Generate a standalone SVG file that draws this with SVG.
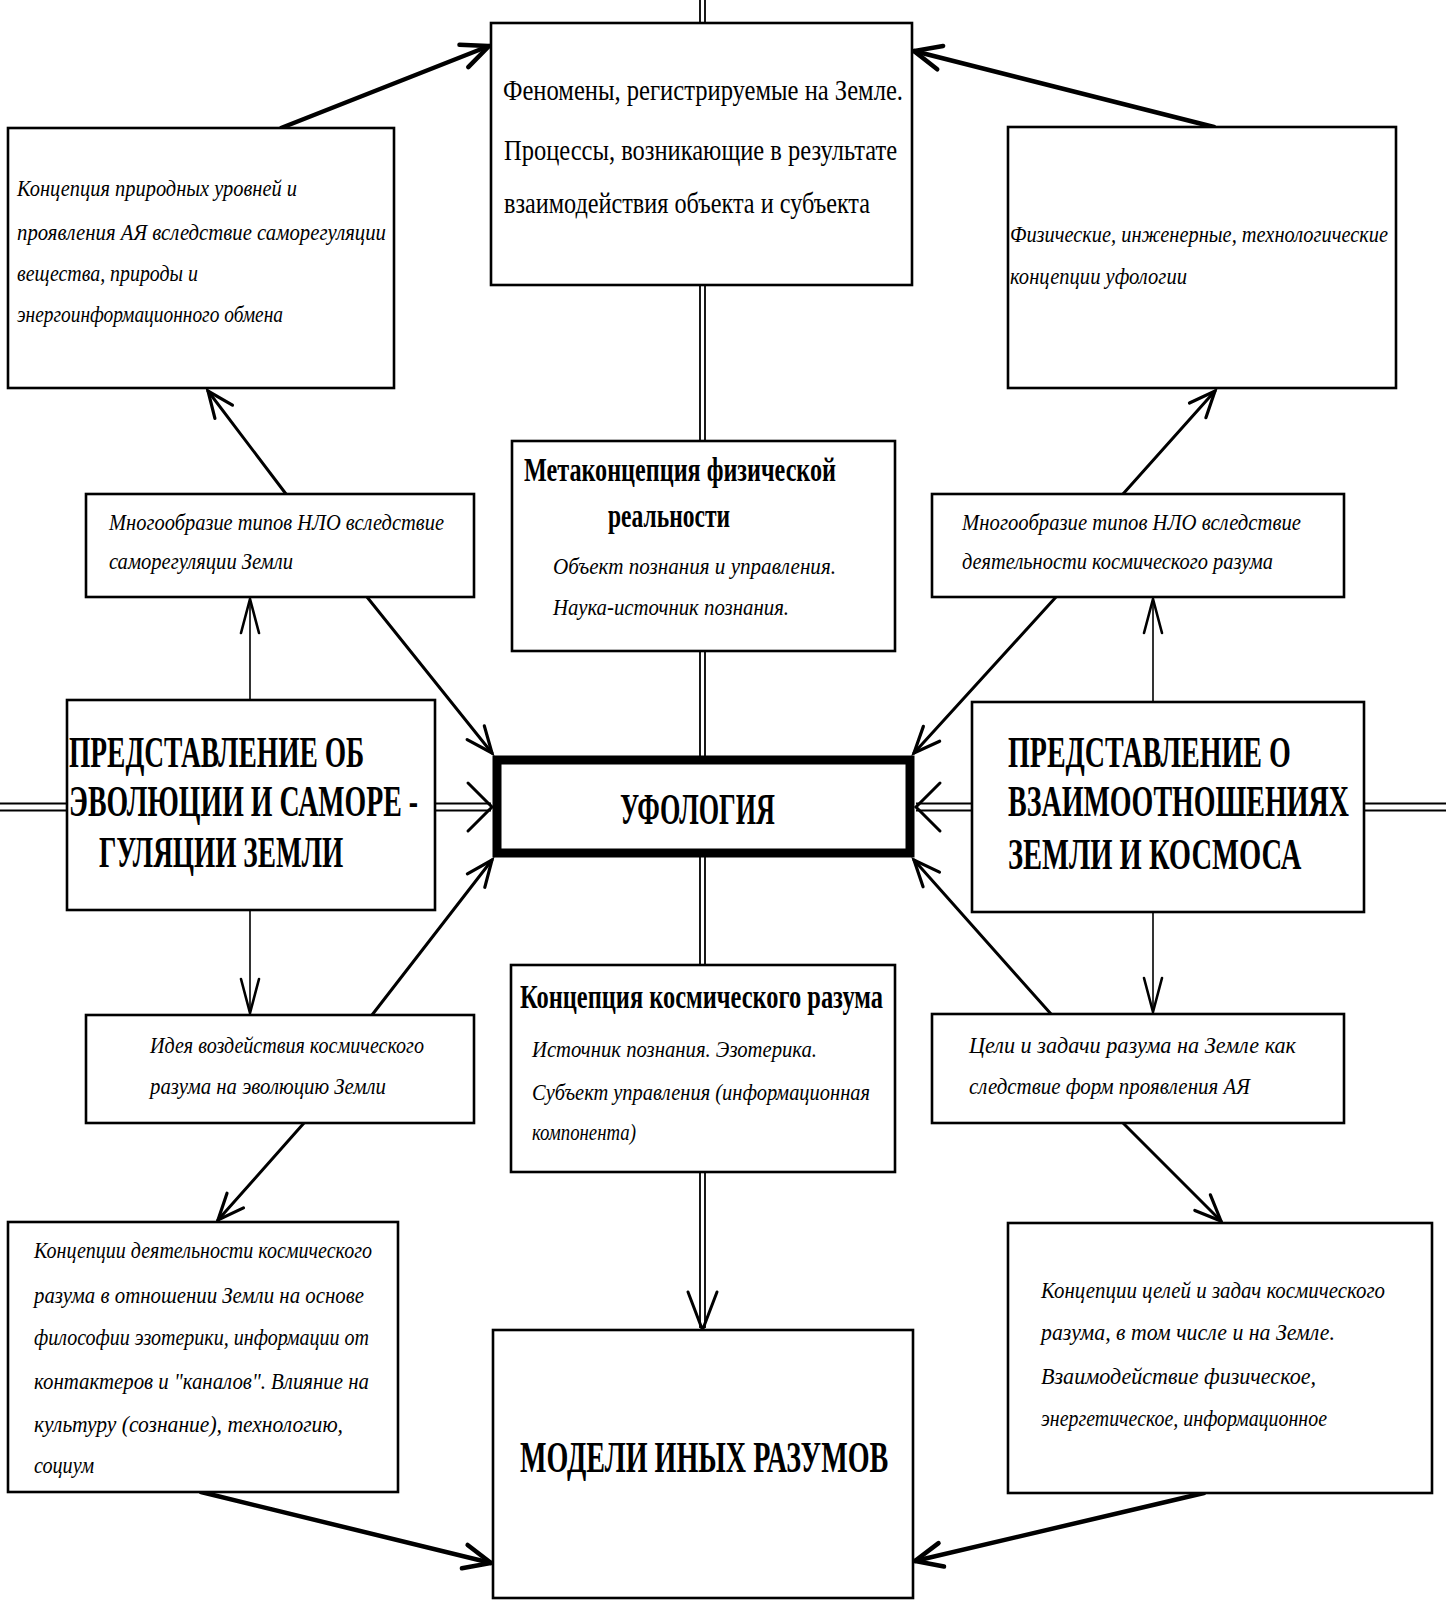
<svg xmlns="http://www.w3.org/2000/svg" width="1446" height="1600" viewBox="0 0 1446 1600">
<style>
.box{fill:#fff;stroke:#000;stroke-width:2.6}
.ufo{fill:#fff;stroke:#000;stroke-width:9}
.t{font-family:"Liberation Serif","DejaVu Serif",serif;fill:#000}
.it{font-style:italic;font-size:23px}
.rg{font-size:30px}
.bd{font-weight:bold;font-size:33px}
.cap{font-weight:bold;font-size:45px}
.ln{fill:none;stroke:#000;stroke-linecap:round}
.thick{stroke-width:4.5}
.mid{stroke-width:3}
.thin{stroke-width:1.6}
.dbl{fill:none;stroke:#000;stroke-width:1.8}
.head{fill:none;stroke:#000;stroke-width:3;stroke-linejoin:miter;stroke-linecap:round}
</style>
<defs>
<marker id="ahThick" markerUnits="userSpaceOnUse" markerWidth="60" markerHeight="60" viewBox="-40 -30 60 60" refX="0" refY="0" orient="auto" overflow="visible">
<path d="M-27,-12 L0,0 L-27,12" fill="none" stroke="#000" stroke-width="4.5" stroke-linecap="round"/>
</marker>
<marker id="ahMid" markerUnits="userSpaceOnUse" markerWidth="60" markerHeight="60" viewBox="-40 -30 60 60" refX="0" refY="0" orient="auto" overflow="visible">
<path d="M-26,-11 L0,0 L-26,11" fill="none" stroke="#000" stroke-width="3.2" stroke-linecap="round"/>
</marker>
<marker id="ahThin" markerUnits="userSpaceOnUse" markerWidth="60" markerHeight="60" viewBox="-40 -30 60 60" refX="0" refY="0" orient="auto" overflow="visible">
<path d="M-34,-9 L0,0 L-34,9" fill="none" stroke="#000" stroke-width="2.6" stroke-linecap="round"/>
</marker>
</defs>
<rect width="1446" height="1600" fill="#fff"/>

<g id="connectors">
<path class="dbl" d="M700,0 V23 M705,0 V23 M700,285 V441 M705,285 V441 M700,651 V756 M705,651 V756 M700,857 V965 M705,857 V965 M700,1172 V1328 M705,1172 V1328"/>
<path class="head" d="M688,1292 L702.5,1330 L717,1292"/>
<path class="dbl" d="M0,803.5 H67 M0,810.5 H67 M435,803.5 H491 M435,810.5 H491 M1364,803.5 H1446 M1364,810.5 H1446 M916,803.5 H972 M916,810.5 H972"/>
<path class="head" d="M468,783 L492,807 L468,831"/>
<path class="head" d="M940,783 L916,807 L940,831"/>
<line class="ln thick" x1="281" y1="128" x2="489" y2="46" marker-end="url(#ahThick)"/>
<line class="ln thick" x1="1214" y1="127" x2="914" y2="51" marker-end="url(#ahThick)"/>
<line class="ln mid" x1="286" y1="494" x2="208" y2="391" marker-end="url(#ahMid)"/>
<line class="ln mid" x1="1123" y1="494" x2="1215" y2="391" marker-end="url(#ahMid)"/>
<line class="ln thin" x1="250" y1="700" x2="250" y2="599" marker-end="url(#ahThin)"/>
<line class="ln thin" x1="1153" y1="702" x2="1153" y2="599" marker-end="url(#ahThin)"/>
<line class="ln mid" x1="367" y1="597" x2="492" y2="753" marker-end="url(#ahMid)"/>
<line class="ln mid" x1="1056" y1="597" x2="914" y2="753" marker-end="url(#ahMid)"/>
<line class="ln thin" x1="250" y1="910" x2="250" y2="1013" marker-end="url(#ahThin)"/>
<line class="ln thin" x1="1153" y1="912" x2="1153" y2="1012" marker-end="url(#ahThin)"/>
<line class="ln mid" x1="372" y1="1015" x2="492" y2="860" marker-end="url(#ahMid)"/>
<line class="ln mid" x1="1051" y1="1014" x2="914" y2="860" marker-end="url(#ahMid)"/>
<line class="ln mid" x1="304" y1="1123" x2="218" y2="1220" marker-end="url(#ahMid)"/>
<line class="ln mid" x1="1123" y1="1123" x2="1221" y2="1221" marker-end="url(#ahMid)"/>
<line class="ln thick" x1="201" y1="1492" x2="491" y2="1563" marker-end="url(#ahThick)"/>
<line class="ln thick" x1="1204" y1="1493" x2="915" y2="1561" marker-end="url(#ahThick)"/>
</g>

<g id="node-phenomena">
<rect class="box" x="491" y="23" width="421" height="262"/>
<text class="t rg" x="503" y="100" textLength="400" lengthAdjust="spacingAndGlyphs">Феномены, регистрируемые на Земле.</text>
<text class="t rg" x="504" y="160" textLength="393" lengthAdjust="spacingAndGlyphs">Процессы, возникающие в результате</text>
<text class="t rg" x="504" y="213" textLength="366" lengthAdjust="spacingAndGlyphs">взаимодействия объекта и субъекта</text>
</g>

<g id="node-natural-levels">
<rect class="box" x="8" y="128" width="386" height="260"/>
<text class="t it" x="17" y="196" textLength="280" lengthAdjust="spacingAndGlyphs">Концепция природных уровней и</text>
<text class="t it" x="17" y="240" textLength="369" lengthAdjust="spacingAndGlyphs">проявления АЯ вследствие саморегуляции</text>
<text class="t it" x="17" y="281" textLength="181" lengthAdjust="spacingAndGlyphs">вещества, природы и</text>
<text class="t it" x="17" y="322" textLength="266" lengthAdjust="spacingAndGlyphs">энергоинформационного обмена</text>
</g>

<g id="node-physical-concepts">
<rect class="box" x="1008" y="127" width="388" height="261"/>
<text class="t it" x="1010" y="242" textLength="378" lengthAdjust="spacingAndGlyphs">Физические, инженерные, технологические</text>
<text class="t it" x="1010" y="284" textLength="177" lengthAdjust="spacingAndGlyphs">концепции уфологии</text>
</g>

<g id="node-metaconcept">
<rect class="box" x="512" y="441" width="383" height="210"/>
<text class="t bd" x="524" y="481" textLength="312" lengthAdjust="spacingAndGlyphs">Метаконцепция физической</text>
<text class="t bd" x="608" y="527" textLength="122" lengthAdjust="spacingAndGlyphs">реальности</text>
<text class="t it" x="553" y="574" textLength="283" lengthAdjust="spacingAndGlyphs">Объект познания и управления.</text>
<text class="t it" x="553" y="615" textLength="236" lengthAdjust="spacingAndGlyphs">Наука-источник познания.</text>
</g>

<g id="node-ufo-types-earth">
<rect class="box" x="86" y="494" width="388" height="103"/>
<text class="t it" x="109" y="530" textLength="335" lengthAdjust="spacingAndGlyphs">Многообразие типов НЛО вследствие</text>
<text class="t it" x="109" y="569" textLength="184" lengthAdjust="spacingAndGlyphs">саморегуляции Земли</text>
</g>

<g id="node-ufo-types-cosmic">
<rect class="box" x="932" y="494" width="412" height="103"/>
<text class="t it" x="962" y="530" textLength="339" lengthAdjust="spacingAndGlyphs">Многообразие типов НЛО вследствие</text>
<text class="t it" x="962" y="569" textLength="311" lengthAdjust="spacingAndGlyphs">деятельности космического разума</text>
</g>

<g id="node-evolution">
<rect class="box" x="67" y="700" width="368" height="210"/>
<text class="t cap" transform="translate(69,767) scale(0.62,1)" x="0" y="0" textLength="476" lengthAdjust="spacingAndGlyphs">ПРЕДСТАВЛЕНИЕ ОБ</text>
<text class="t cap" transform="translate(69,816) scale(0.62,1)" x="0" y="0" textLength="563" lengthAdjust="spacingAndGlyphs">ЭВОЛЮЦИИ И САМОРЕ -</text>
<text class="t cap" transform="translate(99,867) scale(0.62,1)" x="0" y="0" textLength="394" lengthAdjust="spacingAndGlyphs">ГУЛЯЦИИ ЗЕМЛИ</text>
</g>

<g id="node-ufology">
<rect class="ufo" x="497" y="760" width="413" height="93"/>
<text class="t cap" transform="translate(620,824) scale(0.62,1)" x="0" y="0" font-size="42" textLength="250" lengthAdjust="spacingAndGlyphs">УФОЛОГИЯ</text>
</g>

<g id="node-earth-cosmos">
<rect class="box" x="972" y="702" width="392" height="210"/>
<text class="t cap" transform="translate(1008,767) scale(0.62,1)" x="0" y="0" textLength="456" lengthAdjust="spacingAndGlyphs">ПРЕДСТАВЛЕНИЕ О</text>
<text class="t cap" transform="translate(1008,816) scale(0.62,1)" x="0" y="0" textLength="550" lengthAdjust="spacingAndGlyphs">ВЗАИМООТНОШЕНИЯХ</text>
<text class="t cap" transform="translate(1008,869) scale(0.62,1)" x="0" y="0" textLength="473" lengthAdjust="spacingAndGlyphs">ЗЕМЛИ И КОСМОСА</text>
</g>

<g id="node-idea">
<rect class="box" x="86" y="1015" width="388" height="108"/>
<text class="t it" x="150" y="1053" textLength="274" lengthAdjust="spacingAndGlyphs">Идея воздействия космического</text>
<text class="t it" x="150" y="1094" textLength="236" lengthAdjust="spacingAndGlyphs">разума на эволюцию Земли</text>
</g>

<g id="node-cosmic-mind">
<rect class="box" x="511" y="965" width="384" height="207"/>
<text class="t bd" x="520" y="1008" font-size="30" textLength="363" lengthAdjust="spacingAndGlyphs">Концепция космического разума</text>
<text class="t it" x="532" y="1057" textLength="285" lengthAdjust="spacingAndGlyphs">Источник познания. Эзотерика.</text>
<text class="t it" x="532" y="1100" textLength="338" lengthAdjust="spacingAndGlyphs">Субъект управления (информационная</text>
<text class="t it" x="532" y="1140" textLength="104" lengthAdjust="spacingAndGlyphs">компонента)</text>
</g>

<g id="node-goals">
<rect class="box" x="932" y="1014" width="412" height="109"/>
<text class="t it" x="969" y="1053" textLength="327" lengthAdjust="spacingAndGlyphs">Цели и задачи разума на Земле как</text>
<text class="t it" x="969" y="1094" textLength="281" lengthAdjust="spacingAndGlyphs">следствие форм проявления АЯ</text>
</g>

<g id="node-activity-concepts">
<rect class="box" x="8" y="1222" width="390" height="270"/>
<text class="t it" x="34" y="1258" textLength="338" lengthAdjust="spacingAndGlyphs">Концепции деятельности космического</text>
<text class="t it" x="34" y="1303" textLength="330" lengthAdjust="spacingAndGlyphs">разума в отношении Земли на основе</text>
<text class="t it" x="34" y="1345" textLength="335" lengthAdjust="spacingAndGlyphs">философии эзотерики, информации от</text>
<text class="t it" x="34" y="1389" textLength="335" lengthAdjust="spacingAndGlyphs">контактеров и "каналов". Влияние на</text>
<text class="t it" x="34" y="1432" textLength="309" lengthAdjust="spacingAndGlyphs">культуру (сознание), технологию,</text>
<text class="t it" x="34" y="1473" textLength="60" lengthAdjust="spacingAndGlyphs">социум</text>
</g>

<g id="node-models">
<rect class="box" x="493" y="1330" width="420" height="268"/>
<text class="t cap" transform="translate(520,1472) scale(0.62,1)" x="0" y="0" font-size="43" textLength="594" lengthAdjust="spacingAndGlyphs">МОДЕЛИ ИНЫХ РАЗУМОВ</text>
</g>

<g id="node-goals-concepts">
<rect class="box" x="1008" y="1223" width="424" height="270"/>
<text class="t it" x="1041" y="1298" textLength="344" lengthAdjust="spacingAndGlyphs">Концепции целей и задач космического</text>
<text class="t it" x="1041" y="1340" textLength="294" lengthAdjust="spacingAndGlyphs">разума, в том числе и на Земле.</text>
<text class="t it" x="1041" y="1384" textLength="275" lengthAdjust="spacingAndGlyphs">Взаимодействие физическое,</text>
<text class="t it" x="1041" y="1426" textLength="286" lengthAdjust="spacingAndGlyphs">энергетическое, информационное</text>
</g>
</svg>
